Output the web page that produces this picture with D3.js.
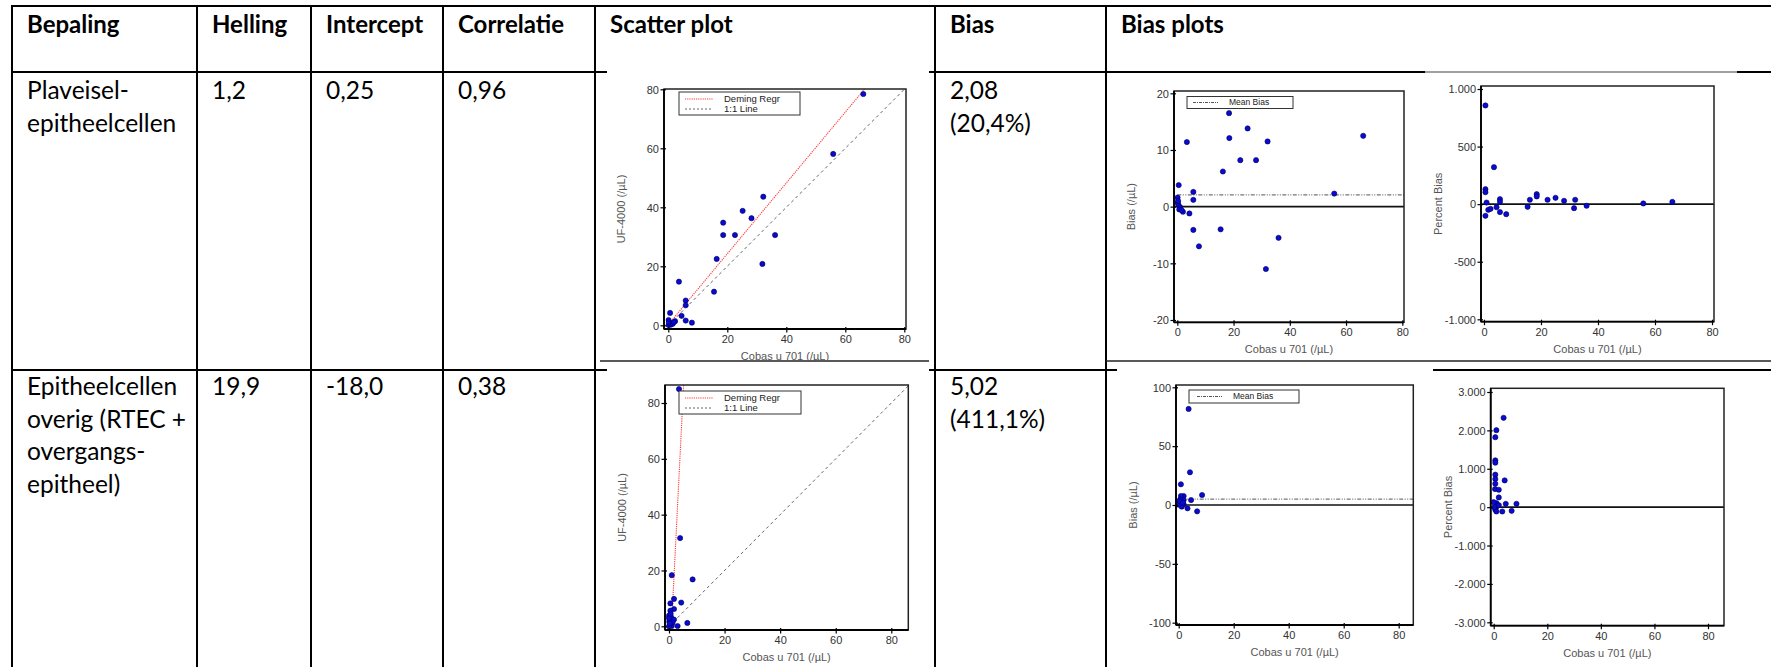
<!DOCTYPE html>
<html><head><meta charset="utf-8">
<script src="https://cdn.jsdelivr.net/npm/d3@7"></script>
<style>
html,body{margin:0;padding:0;background:#fff;}
svg{display:block;}
</style></head>
<body>
<script>
// ---------- DATA ----------
const headers = ["Bepaling","Helling","Intercept","Correlatie","Scatter plot","Bias","Bias plots"];
const rowNames = [["Plaveisel-","epitheelcellen"],["Epitheelcellen","overig (RTEC +","overgangs-","epitheel)"]];
const slopeLabels = ["1,2","19,9"];
const interceptLabels = ["0,25","-18,0"];
const correlationLabels = ["0,96","0,38"];
const biasLabels = [["2,08","(20,4%)"],["5,02","(411,1%)"]];
const slopeValues = [1.2, 19.9];
const interceptValues = [0.25, -18.0];
const meanBiasValues = [2.08, 5.02];

const xTicks = [0,20,40,60,80];
const scatterYTicks = [0,20,40,60,80];
const bias1YTicks = [-20,-10,0,10,20];
const bias2YTicks = [-100,-50,0,50,100];
const pct1YTicks = [-1000,-500,0,500,1000];
const pct2YTicks = [-3000,-2000,-1000,0,1000,2000,3000];

// scatter row 1: [Cobas u 701, UF-4000]
const scatter1 = [[66.1,78.4],[55.9,58.1],[32.2,43.6],[25.2,38.8],[28.2,36.3],[18.6,34.8],[18.6,30.6],[22.6,30.6],[36.2,30.6],[31.9,20.8],[16.4,22.5],[15.5,11.4],[3.6,14.8],[5.9,8.4],[5.9,6.8],[4.5,3.2],[5.9,1.6],[8.0,0.9],[0.6,4.2],[2.3,1.4],[0.1,1.8],[0.6,0.7],[0.1,0.1],[0.8,0.2],[0.2,1.0],[1.5,0.5],[1.9,1.1]];
// bias row 1: [Cobas, bias]
const bias1 = [[66.1,12.5],[55.8,2.3],[18.4,16.5],[25.0,13.8],[18.5,12.1],[32.1,11.5],[3.4,11.4],[22.4,8.2],[28.0,8.2],[16.2,6.2],[0.5,3.8],[5.7,2.6],[5.7,1.2],[5.7,-4.1],[15.4,-4.0],[7.7,-7.0],[36.0,-5.5],[31.5,-11.0],[4.3,-1.2],[2.0,-0.9],[0.1,1.6],[0.1,0.7],[0.4,0.3],[1.0,-0.1],[0.7,-0.5],[0.3,1.0],[1.5,-0.6]];
// percent bias row 1
const pct1 = [[0.5,857],[3.5,321],[0.5,130],[0.5,104],[0.9,14],[0.5,-101],[1.5,-49],[2.3,-41],[4.4,-26],[5.6,43],[5.6,20],[5.6,-69],[7.8,-87],[15.3,-23],[16.1,38],[18.5,87],[18.5,67],[22.3,38],[25.1,55],[28.1,29],[32.0,38],[31.6,-35],[36.0,-14],[55.9,6],[66.1,20]];
// scatter row 2
const scatter2 = [[3.6,85.0],[4.0,31.6],[1.0,18.3],[8.5,16.8],[1.8,9.8],[4.4,8.5],[0.5,8.2],[1.8,6.2],[0.5,5.6],[0.0,3.8],[0.8,3.2],[1.8,2.4],[6.6,1.2],[3.1,0.1],[0.1,1.7],[0.4,0.5],[1.0,0.1],[0.0,2.9],[1.3,1.3],[0.0,0.0],[0.6,4.5],[0.3,1.0]];
// bias row 2
const bias2 = [[3.6,81.6],[4.1,27.8],[0.8,17.6],[8.5,8.5],[1.8,7.6],[0.8,7.6],[1.8,4.2],[4.5,4.2],[0.6,4.8],[0.0,2.8],[0.4,1.4],[1.2,0.0],[3.2,-2.8],[6.7,-5.4],[1.8,0.6],[1.1,-1.4],[0.0,0.3],[0.2,3.5],[1.5,2.0]];
// percent bias row 2
const pct2 = [[3.7,2328],[1.0,2005],[0.6,1822],[0.6,1220],[0.6,1160],[0.6,846],[0.6,732],[4.1,697],[0.6,610],[0.5,471],[1.9,453],[1.9,253],[4.5,87],[8.5,87],[1.0,105],[1.1,17],[1.9,52],[0.6,-70],[1.0,-113],[3.2,-113],[6.7,-96],[0.2,0],[0.0,130]];

// ---------- LAYOUT ----------
const W = 1771, H = 667;
const svg = d3.select("body").append("svg").attr("width", W).attr("height", H);
const tableFont = "Lato, 'Open Sans', sans-serif";
const chartFont = "'Liberation Sans', Arial, sans-serif";

const colX = [12, 197, 311, 443, 595, 935, 1106];
const textPad = 15;

// table text
const gT = svg.append("g").attr("font-family", tableFont).attr("fill", "#000");
headers.forEach((h, i) => {
  gT.append("text").attr("x", colX[i] + textPad).attr("y", 33)
    .attr("font-size", 24).attr("font-weight", 700).text(h);
});
const rowBase = [99, 395];
const lineH = 32.5;
function cellLines(col, row, lines) {
  lines.forEach((t, k) => {
    gT.append("text").attr("x", colX[col] + textPad).attr("y", rowBase[row] + k * lineH)
      .attr("font-size", 24.5).text(t);
  });
}
[0,1].forEach(r => {
  cellLines(0, r, rowNames[r]);
  cellLines(1, r, [slopeLabels[r]]);
  cellLines(2, r, [interceptLabels[r]]);
  cellLines(3, r, [correlationLabels[r]]);
  cellLines(5, r, biasLabels[r]);
});

// table lines
const gL = svg.append("g").attr("stroke", "#000").attr("fill", "none");
function hline(y, x1, x2, w, c) { gL.append("line").attr("x1", x1).attr("x2", x2).attr("y1", y).attr("y2", y).attr("stroke-width", w || 2).attr("stroke", c || "#000"); }
function vline(x, y1, y2, w) { gL.append("line").attr("x1", x).attr("x2", x).attr("y1", y1).attr("y2", y2).attr("stroke-width", w || 2); }
hline(6, 11, W);
colX.forEach(x => vline(x, 5, H));
hline(72, 11, 607); hline(72, 929, 1425); hline(72, 1425, 1737, 1.2, "#444"); hline(72, 1737, W);
hline(370, 11, 607); hline(370, 929, 1117); hline(370, 1433, W);
hline(361, 600, 929, 1.5, "#222"); hline(361, 1106, W, 1.5, "#222");

// ---------- CHARTS ----------
const nlFormat = d3.formatLocale({decimal: ",", thousands: ".", grouping: [3], currency: ["", ""], minus: "-"}).format(",d");

function chart(cfg) {
  const g = svg.append("g").attr("font-family", chartFont);
  const f = cfg.frame;
  const xs = d3.scaleLinear().domain([0, 80]).range(cfg.xr);
  const ys = d3.scaleLinear().domain(cfg.yd).range(cfg.yr);
  // white panel
  g.append("rect").attr("x", f.x1).attr("y", f.y1).attr("width", f.x2 - f.x1).attr("height", f.y2 - f.y1).attr("fill", "#fff");
  const clipId = "clip" + cfg.id;
  svg.append("clipPath").attr("id", clipId).append("rect")
    .attr("x", f.x1).attr("y", f.y1).attr("width", f.x2 - f.x1).attr("height", f.y2 - f.y1);
  const inner = g.append("g").attr("clip-path", `url(#${clipId})`);

  const xMaxVis = xs.invert(f.x2), xMinVis = xs.invert(f.x1);
  const yMaxVis = ys.invert(f.y1);

  if (cfg.type === "scatter") {
    const m = Math.min(xMaxVis, yMaxVis);
    inner.append("line").attr("x1", xs(0)).attr("y1", ys(0)).attr("x2", xs(m)).attr("y2", ys(m))
      .attr("stroke", "#666").attr("stroke-width", 1).attr("stroke-dasharray", "3,3");
    const sl = cfg.slope, ic = cfg.intercept;
    const xTop = (yMaxVis - ic) / sl;
    inner.append("line").attr("x1", xs(0)).attr("y1", ys(ic)).attr("x2", xs(xTop)).attr("y2", ys(sl * xTop + ic))
      .attr("stroke", "#ff3a3a").attr("stroke-width", 1.1).attr("stroke-dasharray", "1.2,1");
  } else {
    inner.append("line").attr("x1", f.x1).attr("x2", f.x2).attr("y1", ys(0)).attr("y2", ys(0))
      .attr("stroke", "#111").attr("stroke-width", 1.6);
    if (cfg.meanBias !== undefined) {
      inner.append("line").attr("x1", xs(0)).attr("x2", f.x2).attr("y1", ys(cfg.meanBias)).attr("y2", ys(cfg.meanBias))
        .attr("stroke", "#777").attr("stroke-width", 1.1).attr("stroke-dasharray", "4,1.5,1,1.5,1,1.5");
    }
  }

  // points
  inner.selectAll("circle").data(cfg.points).join("circle")
    .attr("cx", d => xs(d[0])).attr("cy", d => ys(d[1])).attr("r", 2.6)
    .attr("fill", "#0a0ad2").attr("stroke", "#00005a").attr("stroke-width", 0.6);

  // frame
  g.append("rect").attr("x", f.x1).attr("y", f.y1).attr("width", f.x2 - f.x1).attr("height", f.y2 - f.y1)
    .attr("fill", "none").attr("stroke", "#222").attr("stroke-width", 1.5);

  // axes
  const xAxis = d3.axisBottom(xs).tickValues(xTicks).tickSize(0).tickPadding(0).tickFormat(d3.format("d"));
  const gx = g.append("g").attr("transform", `translate(0,${f.y2})`).call(xAxis);
  gx.select(".domain").remove();
  gx.selectAll(".tick").append("line").attr("y1", -2).attr("y2", 3.5).attr("stroke", "#000").attr("stroke-width", 1.2);
  gx.selectAll(".tick text").attr("y", 14).attr("dy", 0).attr("fill", "#333").attr("font-size", 11).attr("font-family", chartFont);

  const yAxis = d3.axisLeft(ys).tickValues(cfg.yTicks).tickSize(0).tickPadding(0).tickFormat(nlFormat);
  const gy = g.append("g").attr("transform", `translate(${f.x1},0)`).call(yAxis);
  gy.select(".domain").remove();
  gy.selectAll(".tick").append("line").attr("x1", -3.5).attr("x2", 2).attr("stroke", "#000").attr("stroke-width", 1.2);
  gy.selectAll(".tick text").attr("x", -5).attr("dy", "0.34em").attr("fill", "#333").attr("font-size", 11).attr("font-family", chartFont);
  // heavier left & bottom axis lines
  g.append("line").attr("x1", f.x1).attr("x2", f.x1).attr("y1", f.y1).attr("y2", f.y2).attr("stroke", "#000").attr("stroke-width", 1.8);
  g.append("line").attr("x1", f.x1).attr("x2", f.x2).attr("y1", f.y2).attr("y2", f.y2).attr("stroke", "#000").attr("stroke-width", 1.8);

  // titles
  g.append("text").attr("x", (f.x1 + f.x2) / 2).attr("y", f.y2 + 31).attr("text-anchor", "middle")
    .attr("font-size", 11).attr("fill", "#555").text("Cobas u 701 (/µL)");
  const yc = (f.y1 + f.y2) / 2, xc = f.x1 - 39;
  g.append("text").attr("transform", `translate(${xc},${yc}) rotate(-90)`).attr("text-anchor", "middle")
    .attr("font-size", 11).attr("fill", "#555").text(cfg.yTitle);

  // legend
  if (cfg.legend) {
    const L = cfg.legend;
    const lg = g.append("g");
    lg.append("rect").attr("x", L.x).attr("y", L.y).attr("width", L.w).attr("height", L.h)
      .attr("fill", "#fff").attr("stroke", "#333").attr("stroke-width", 1);
    L.items.forEach((it, k) => {
      const yy = L.y + L.first + k * L.step;
      lg.append("line").attr("x1", L.x + L.s1).attr("x2", L.x + L.s2).attr("y1", yy).attr("y2", yy)
        .attr("stroke", it.color).attr("stroke-width", 1).attr("stroke-dasharray", it.dash);
      lg.append("text").attr("x", L.x + L.tx).attr("y", yy).attr("dy", "0.35em")
        .attr("font-size", L.fs).attr("fill", "#222").text(it.label);
    });
  }
}

const scatterLegendItems = [
  {label: "Deming Regr", color: "#ff3a3a", dash: "1.2,1"},
  {label: "1:1 Line", color: "#666", dash: "2,2"}
];
const biasLegendItems = [{label: "Mean Bias", color: "#555", dash: "3,1,1,1"}];

chart({id: "s1", type: "scatter", points: scatter1, slope: slopeValues[0], intercept: interceptValues[0],
  xr: [668.3, 904.3], yd: [0, 80], yr: [325.3, 89.3], frame: {x1: 664, x2: 906, y1: 89, y2: 329},
  yTicks: scatterYTicks, yTitle: "UF-4000 (/µL)",
  legend: {x: 679, y: 92, w: 121, h: 23, first: 7, step: 10, s1: 6, s2: 34, tx: 45, fs: 9.5, items: scatterLegendItems}});
chart({id: "b1", type: "bias", points: bias1, meanBias: meanBiasValues[0],
  xr: [1177.3, 1402.3], yd: [-20, 20], yr: [320, 93.3], frame: {x1: 1174, x2: 1404, y1: 91, y2: 322.3},
  yTicks: bias1YTicks, yTitle: "Bias (/µL)",
  legend: {x: 1187, y: 96.5, w: 106, h: 12, first: 6, step: 0, s1: 6, s2: 31, tx: 42, fs: 8.5, items: biasLegendItems}});
chart({id: "p1", type: "pct", points: pct1,
  xr: [1484, 1712], yd: [-1000, 1000], yr: [319.3, 89], frame: {x1: 1481, x2: 1714, y1: 86, y2: 321.7},
  yTicks: pct1YTicks, yTitle: "Percent Bias"});
chart({id: "s2", type: "scatter", points: scatter2, slope: slopeValues[1], intercept: interceptValues[1],
  xr: [669, 891.3], yd: [0, 80], yr: [626.3, 403], frame: {x1: 665, x2: 908.3, y1: 385, y2: 630},
  yTicks: scatterYTicks, yTitle: "UF-4000 (/µL)",
  legend: {x: 679, y: 391, w: 122, h: 23, first: 7, step: 10, s1: 6, s2: 34, tx: 45, fs: 9.5, items: scatterLegendItems}});
chart({id: "b2", type: "bias", points: bias2, meanBias: meanBiasValues[1],
  xr: [1178.7, 1398.7], yd: [-100, 100], yr: [622.7, 387.3], frame: {x1: 1176, x2: 1413.3, y1: 385, y2: 625},
  yTicks: bias2YTicks, yTitle: "Bias (/µL)",
  legend: {x: 1189, y: 390, w: 110, h: 13, first: 6.5, step: 0, s1: 8, s2: 33, tx: 44, fs: 8.5, items: biasLegendItems}});
chart({id: "p2", type: "pct", points: pct2,
  xr: [1493.7, 1708], yd: [-3000, 3000], yr: [622.3, 392], frame: {x1: 1490.7, x2: 1724, y1: 388.3, y2: 625.7},
  yTicks: pct2YTicks, yTitle: "Percent Bias"});
</script>
</body></html>
